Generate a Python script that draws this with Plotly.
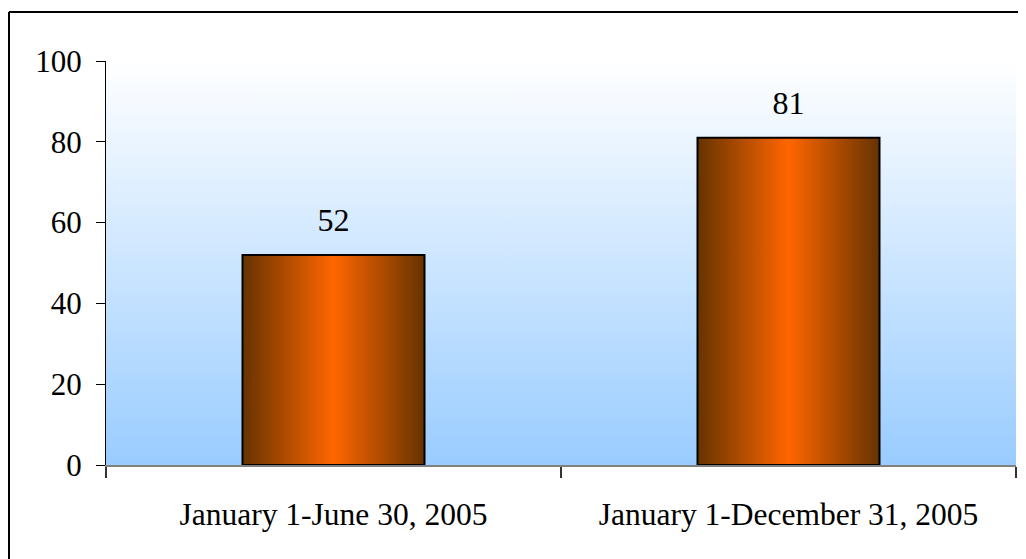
import plotly.graph_objects as go

# ---- data ----
categories = ["January 1-June 30, 2005", "January 1-December 31, 2005"]
values = [52, 81]
y_ticks = [0, 20, 40, 60, 80, 100]

# ---- style ----
FONT = "Liberation Serif, Times New Roman, serif"
BAR_HALF = 0.2
BAR_SCALE = [[0.0, "#663300"], [0.5, "#FF6600"], [1.0, "#663300"]]
BG_SCALE = [[0.0, "#99CCFF"], [1.0, "#FFFFFF"]]
X_RANGE = [-0.5, len(categories) - 0.5]
Y_RANGE = [y_ticks[0], y_ticks[-1]]

# page body has an 8px margin; figure extends past the window's right/bottom
FIG_W, FIG_H = 1030, 562
M_L, M_T = 98, 53
PW, PH = 910, 404
M_R = FIG_W - M_L - PW
M_B = FIG_H - M_T - PH

fig = go.Figure()

# plot-area gradient background
fig.add_trace(go.Scatter(
    x=[X_RANGE[0], X_RANGE[0], X_RANGE[1], X_RANGE[1], X_RANGE[0]],
    y=[Y_RANGE[0], Y_RANGE[1], Y_RANGE[1], Y_RANGE[0], Y_RANGE[0]],
    mode="lines", fill="toself",
    fillgradient=dict(type="vertical", colorscale=BG_SCALE),
    line=dict(width=0, color="rgba(0,0,0,0)"),
    hoverinfo="skip", showlegend=False,
))

# bars with horizontal gradient
for i, (cat, v) in enumerate(zip(categories, values)):
    fig.add_trace(go.Scatter(
        x=[i - BAR_HALF, i - BAR_HALF, i + BAR_HALF, i + BAR_HALF, i - BAR_HALF],
        y=[0, v, v, 0, 0],
        mode="lines", fill="toself",
        fillgradient=dict(type="horizontal", colorscale=BAR_SCALE),
        line=dict(width=2, color="black"),
        name=cat, hoverinfo="skip", showlegend=False,
    ))

# value labels
fig.add_trace(go.Scatter(
    x=list(range(len(categories))), y=values,
    mode="markers+text", text=[str(v) for v in values],
    textposition="top center",
    marker=dict(size=24, opacity=0),
    textfont=dict(family=FONT, size=32, color="black"),
    hoverinfo="skip", showlegend=False,
))

# outer chart frame: only left and top edges are visible in the picture
x_left = (1 - M_L) / PW
y_top = 1 + (M_T - 4) / PH
frame = [
    dict(type="line", xref="paper", yref="paper",
         x0=x_left, x1=x_left, y0=-M_B / PH, y1=y_top,
         line=dict(color="black", width=2), layer="above"),
    dict(type="line", xref="paper", yref="paper",
         x0=x_left, x1=(FIG_W - M_L) / PW, y0=y_top, y1=y_top,
         line=dict(color="black", width=2), layer="above"),
]

fig.update_layout(
    width=FIG_W, height=FIG_H,
    margin=dict(l=M_L, r=M_R, t=M_T, b=M_B, pad=0),
    paper_bgcolor="white", plot_bgcolor="white",
    showlegend=False,
    font=dict(family=FONT, size=31, color="black"),
    xaxis=dict(
        range=X_RANGE, tickmode="array",
        tickvals=list(range(len(categories))), ticktext=categories,
        ticks="", showgrid=False, zeroline=False,
        showline=True, linecolor="#808080", linewidth=2,
        ticklabelstandoff=20,
        minor=dict(tickmode="array",
                   tickvals=[k - 0.5 for k in range(len(categories) + 1)],
                   ticks="outside", ticklen=11, tickwidth=2, tickcolor="#333333"),
        tickfont=dict(family=FONT, size=31.5),
    ),
    yaxis=dict(
        range=Y_RANGE, tickmode="array", tickvals=y_ticks,
        ticks="outside", ticklen=9, tickwidth=1, tickcolor="black",
        showgrid=False, zeroline=False,
        showline=True, linecolor="black", linewidth=1,
        ticklabelstandoff=8,
        tickfont=dict(family=FONT, size=31),
    ),
    shapes=frame,
)

fig.write_html("out.html")
